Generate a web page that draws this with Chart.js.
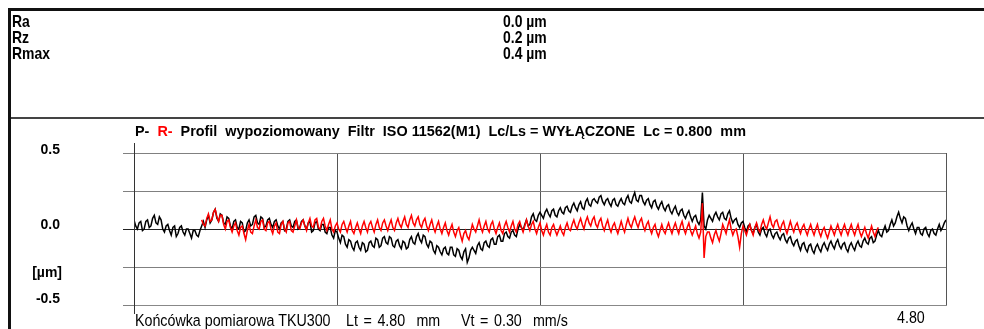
<!DOCTYPE html>
<html>
<head>
<meta charset="utf-8">
<script src="https://cdn.jsdelivr.net/npm/chart.js@4.4.1/dist/chart.umd.min.js"></script>
<style>
html, body { margin: 0; padding: 0; background: #fff; }
#page { position: relative; width: 984px; height: 329px; overflow: hidden; font-family: "Liberation Sans", Arial, sans-serif; color: #000; }
#chart { position: absolute; left: 0; top: 0; }
.t { position: absolute; white-space: pre; line-height: 1; }
.n { transform: scaleX(0.82); transform-origin: 0 50%; }
.b { font-weight: bold; }
.r { text-align: right; }
#frameTop { position: absolute; left: 8px; top: 8px; width: 976px; height: 3px; background: #111; }
#frameLeft { position: absolute; left: 8px; top: 8px; width: 3px; height: 321px; background: #111; }
#divider { position: absolute; left: 11px; top: 117px; width: 973px; height: 2px; background: #444; }
</style>
</head>
<body>
<div id="page">
  <canvas id="chart" width="984" height="329"></canvas>
  <div id="frameTop"></div>
  <div id="frameLeft"></div>
  <div id="divider"></div>

  <div class="t n b" style="left:12px;top:13px;font-size:17px;">Ra</div>
  <div class="t n b" style="left:12px;top:29px;font-size:17px;">Rz</div>
  <div class="t n b" style="left:12px;top:45px;font-size:17px;">Rmax</div>
  <div class="t n b" style="left:503px;top:13px;font-size:17px;">0.0 µm</div>
  <div class="t n b" style="left:503px;top:29px;font-size:17px;">0.2 µm</div>
  <div class="t n b" style="left:503px;top:45px;font-size:17px;">0.4 µm</div>

  <div class="t b" style="left:135px;top:124px;font-size:14.4px;">P-  <span style="color:#ff0000">R-</span>  Profil  wypoziomowany  Filtr  ISO 11562(M1)  Lc/Ls = WYŁĄCZONE  Lc = 0.800  mm</div>

  <div class="t b r" style="right:924px;top:142px;font-size:14px;">0.5</div>
  <div class="t b r" style="right:924px;top:217px;font-size:14px;">0.0</div>
  <div class="t b r" style="right:922px;top:265px;font-size:14px;">[µm]</div>
  <div class="t b r" style="right:924px;top:291px;font-size:14px;">-0.5</div>

  <div class="t n" style="left:135px;top:312px;font-size:17.4px;">Końcówka pomiarowa TKU300</div>
  <div class="t n" style="left:346px;top:312px;font-size:17.4px;word-spacing:2px;">Lt = 4.80  mm</div>
  <div class="t n" style="left:461px;top:312px;font-size:17.4px;word-spacing:2px;">Vt = 0.30  mm/s</div>
  <div class="t n" style="left:897px;top:309px;font-size:17.4px;">4.80</div>
</div>
<script>
// sampling step of the profile along the trace, mm
const step = 0.01;
const traceLength = 4.8;
const filteredStart = 0.4;

// P- primary profile (black), 0.00 .. 4.80 mm, µm
const profileP = [
  0.06, 0.02, 0.00, 0.04, 0.05, -0.01, 0.00, 0.05, 0.06, 0.01, 0.02, 0.07, 0.09, 0.04, 0.03, 0.08, 0.06, 0.00, -0.02, 0.02,
  0.03, -0.01, -0.04, 0.01, 0.02, -0.05, -0.03, 0.01, 0.02, -0.02, -0.04, 0.00, 0.00, -0.03, -0.06, -0.01, -0.01, -0.04, -0.05, -0.01,
  0.02, 0.05, 0.01, 0.06, 0.09, 0.04, 0.06, 0.11, 0.13, 0.07, 0.05, 0.10, 0.09, 0.04, 0.03, 0.08, 0.07, 0.02, 0.00, 0.05,
  0.06, 0.01, 0.00, 0.05, 0.04, -0.02, -0.01, 0.04, 0.06, 0.02, 0.03, 0.08, 0.09, 0.04, 0.03, 0.08, 0.07, 0.01, 0.02, 0.06,
  0.07, 0.03, 0.01, 0.05, 0.06, 0.02, 0.00, 0.04, 0.05, -0.01, 0.00, 0.05, 0.06, 0.02, 0.01, 0.05, 0.06, 0.00, 0.01, 0.05,
  0.06, 0.02, 0.00, 0.04, 0.05, -0.02, -0.01, 0.04, 0.05, 0.00, -0.01, 0.03, 0.03, -0.02, -0.03, 0.01, 0.01, -0.04, -0.06, -0.01,
  -0.02, -0.06, -0.09, -0.04, -0.05, -0.10, -0.12, -0.07, -0.08, -0.12, -0.14, -0.09, -0.08, -0.12, -0.14, -0.09, -0.10, -0.15, -0.14, -0.09,
  -0.08, -0.11, -0.12, -0.06, -0.07, -0.12, -0.11, -0.06, -0.05, -0.09, -0.10, -0.05, -0.06, -0.11, -0.12, -0.08, -0.07, -0.11, -0.13, -0.08,
  -0.09, -0.13, -0.12, -0.07, -0.05, -0.09, -0.10, -0.05, -0.03, -0.07, -0.09, -0.04, -0.05, -0.10, -0.12, -0.08, -0.09, -0.14, -0.16, -0.11,
  -0.12, -0.15, -0.17, -0.13, -0.12, -0.16, -0.17, -0.12, -0.12, -0.17, -0.18, -0.13, -0.14, -0.18, -0.20, -0.15, -0.13, -0.22, -0.19, -0.14,
  -0.12, -0.14, -0.16, -0.11, -0.09, -0.13, -0.14, -0.09, -0.08, -0.11, -0.12, -0.07, -0.06, -0.10, -0.10, -0.05, -0.04, -0.08, -0.08, -0.03,
  -0.02, -0.05, -0.06, -0.02, -0.01, -0.04, -0.05, 0.00, 0.03, 0.01, -0.01, 0.03, 0.06, 0.02, 0.03, 0.08, 0.10, 0.06, 0.05, 0.09,
  0.11, 0.09, 0.07, 0.11, 0.13, 0.10, 0.08, 0.12, 0.13, 0.09, 0.08, 0.12, 0.14, 0.11, 0.10, 0.14, 0.15, 0.12, 0.11, 0.15,
  0.17, 0.14, 0.12, 0.16, 0.18, 0.14, 0.13, 0.18, 0.20, 0.16, 0.15, 0.19, 0.20, 0.18, 0.17, 0.21, 0.22, 0.18, 0.16, 0.19,
  0.20, 0.17, 0.15, 0.19, 0.20, 0.16, 0.15, 0.18, 0.20, 0.17, 0.16, 0.20, 0.22, 0.18, 0.17, 0.21, 0.24, 0.19, 0.18, 0.22,
  0.22, 0.18, 0.16, 0.19, 0.20, 0.16, 0.14, 0.18, 0.19, 0.15, 0.13, 0.16, 0.18, 0.14, 0.12, 0.15, 0.16, 0.12, 0.10, 0.13,
  0.15, 0.11, 0.09, 0.12, 0.13, 0.09, 0.07, 0.10, 0.12, 0.08, 0.05, 0.08, 0.09, 0.05, 0.03, 0.06, 0.24, 0.02, 0.00, 0.06,
  0.09, 0.07, 0.05, 0.09, 0.11, 0.08, 0.06, 0.10, 0.11, 0.07, 0.06, 0.10, 0.12, 0.07, 0.04, 0.06, 0.07, 0.03, 0.01, 0.04,
  0.05, 0.01, -0.02, 0.02, 0.03, -0.01, -0.03, 0.01, 0.03, -0.02, -0.04, 0.00, 0.01, -0.03, -0.05, -0.01, 0.00, -0.04, -0.06, -0.03,
  -0.02, -0.05, -0.07, -0.04, -0.03, -0.07, -0.09, -0.06, -0.05, -0.09, -0.11, -0.08, -0.07, -0.11, -0.14, -0.10, -0.09, -0.13, -0.15, -0.11,
  -0.10, -0.14, -0.16, -0.12, -0.10, -0.13, -0.15, -0.11, -0.09, -0.12, -0.14, -0.10, -0.08, -0.11, -0.13, -0.09, -0.07, -0.11, -0.13, -0.10,
  -0.09, -0.13, -0.15, -0.11, -0.09, -0.12, -0.14, -0.10, -0.08, -0.11, -0.12, -0.08, -0.06, -0.09, -0.10, -0.06, -0.05, -0.09, -0.08, -0.04,
  -0.01, -0.04, -0.05, -0.01, 0.02, -0.02, -0.01, 0.03, 0.06, 0.02, 0.04, 0.08, 0.11, 0.07, 0.04, 0.08, 0.07, 0.02, -0.01, 0.02,
  0.04, 0.00, -0.03, 0.01, 0.01, -0.03, -0.04, 0.00, 0.01, -0.03, -0.05, -0.01, 0.00, -0.03, -0.04, 0.00, 0.03, -0.01, 0.01, 0.04,
  0.06
];

// R- roughness profile (red), 0.40 .. 4.40 mm, µm
const profileR = [
  0.06, 0.03, 0.02, 0.07, 0.10, 0.05, 0.06, 0.11, 0.13, 0.08, 0.05, 0.09, 0.09, 0.03, 0.00, 0.05, 0.06, 0.01, -0.02, 0.02,
  0.04, -0.01, -0.04, 0.01, 0.02, -0.03, -0.07, -0.01, 0.03, -0.02, -0.03, 0.02, 0.06, 0.01, 0.00, 0.05, 0.06, 0.00, -0.01, 0.04,
  0.05, 0.00, -0.03, 0.02, 0.04, -0.02, -0.03, 0.03, 0.05, 0.00, -0.02, 0.04, 0.05, -0.01, -0.02, 0.02, 0.06, 0.01, 0.00, 0.04,
  0.06, 0.02, -0.01, 0.04, 0.07, 0.02, 0.01, 0.06, 0.07, 0.01, 0.00, 0.05, 0.07, 0.02, -0.01, 0.03, 0.06, 0.00, -0.02, 0.02,
  0.04, 0.00, -0.02, 0.03, 0.05, 0.01, -0.02, 0.02, 0.05, -0.01, -0.03, 0.01, 0.04, 0.00, -0.03, 0.02, 0.05, 0.01, -0.02, 0.03,
  0.05, 0.01, -0.02, 0.03, 0.06, 0.01, -0.01, 0.04, 0.06, 0.02, -0.01, 0.03, 0.06, 0.01, -0.01, 0.04, 0.07, 0.03, 0.01, 0.05,
  0.08, 0.03, 0.01, 0.06, 0.09, 0.04, 0.02, 0.06, 0.08, 0.03, 0.01, 0.05, 0.07, 0.02, -0.01, 0.03, 0.06, 0.01, -0.02, 0.02,
  0.05, 0.00, -0.03, 0.01, 0.04, -0.01, -0.04, 0.00, 0.03, -0.02, -0.05, -0.01, 0.01, -0.04, -0.08, -0.03, -0.01, -0.05, -0.07, -0.02,
  0.03, 0.00, -0.02, 0.02, 0.06, 0.01, -0.02, 0.02, 0.05, 0.00, -0.02, 0.03, 0.05, 0.00, -0.03, 0.01, 0.04, -0.01, -0.03, 0.02,
  0.05, 0.01, -0.02, 0.02, 0.05, 0.00, -0.02, 0.03, 0.05, 0.01, -0.02, 0.02, 0.06, 0.02, -0.01, 0.03, 0.05, 0.00, -0.03, 0.01,
  0.04, -0.01, -0.04, 0.00, 0.03, -0.02, -0.04, 0.01, 0.03, -0.01, -0.04, -0.01, 0.02, -0.02, -0.04, 0.01, 0.04, 0.00, -0.01, 0.03,
  0.06, 0.02, 0.00, 0.04, 0.07, 0.03, 0.00, 0.05, 0.08, 0.04, 0.02, 0.06, 0.08, 0.03, 0.01, 0.05, 0.07, 0.02, -0.01, 0.03,
  0.06, 0.01, -0.02, 0.02, 0.04, 0.00, -0.03, 0.01, 0.05, 0.01, -0.02, 0.03, 0.07, 0.03, 0.01, 0.05, 0.08, 0.04, 0.01, 0.05,
  0.07, 0.02, -0.01, 0.03, 0.05, 0.00, -0.03, 0.01, 0.03, -0.02, -0.05, -0.01, 0.03, -0.01, -0.03, 0.01, 0.04, 0.00, -0.03, 0.01,
  0.04, 0.00, -0.03, 0.02, 0.05, 0.00, -0.03, 0.01, 0.04, -0.01, -0.04, -0.01, 0.02, -0.03, -0.06, -0.02, 0.17, -0.19, -0.05, -0.02,
  -0.02, -0.06, -0.09, -0.04, -0.01, -0.05, -0.08, -0.03, 0.03, 0.00, -0.03, 0.02, 0.06, 0.00, -0.04, -0.01, 0.00, -0.05, -0.12, -0.03,
  0.02, -0.01, -0.04, 0.00, 0.03, -0.01, -0.04, 0.01, 0.04, 0.00, -0.02, 0.03, 0.06, 0.02, 0.00, 0.04, 0.08, 0.03, 0.01, 0.05,
  0.06, 0.02, -0.01, 0.03, 0.05, 0.00, -0.03, 0.01, 0.05, 0.01, -0.02, 0.02, 0.04, 0.00, -0.03, 0.01, 0.03, -0.01, -0.04, 0.00,
  0.03, -0.01, -0.04, 0.00, 0.03, -0.02, -0.05, -0.01, 0.01, -0.03, -0.06, -0.02, 0.02, -0.01, -0.04, 0.00, 0.03, -0.01, -0.04, 0.00,
  0.03, -0.01, -0.04, 0.00, 0.03, -0.01, -0.04, 0.00, 0.03, -0.02, -0.05, -0.02, 0.01, -0.03, -0.06, -0.02, 0.02, -0.02, -0.05, -0.01,
  0.01
];

const xTicks = [0, 1.2, 2.4, 3.6, 4.8];
const yTicks = [-0.5, -0.25, 0, 0.25, 0.5];

function toPoints(values, start) {
  return values.map((v, i) => ({ x: +(start + i * step).toFixed(2), y: v }));
}

// vertical axis line overshoots the plot frame at top and bottom
const axisOvershoot = {
  id: 'axisOvershoot',
  afterDraw(chart) {
    const { ctx, chartArea } = chart;
    const x = Math.round(chart.scales.x.getPixelForValue(0)) + 0.5;
    ctx.save();
    ctx.strokeStyle = '#333';
    ctx.lineWidth = 1;
    ctx.beginPath();
    ctx.moveTo(x, chartArea.top - 10);
    ctx.lineTo(x, chartArea.bottom + 9);
    ctx.stroke();
    ctx.restore();
  }
};

new Chart(document.getElementById('chart'), {
  type: 'line',
  data: {
    datasets: [
      {
        label: 'R-',
        data: toPoints(profileR, filteredStart),
        borderColor: '#ff0000',
        borderWidth: 1.5,
        pointRadius: 0,
        tension: 0,
      },
      {
        label: 'P-',
        data: toPoints(profileP, 0),
        borderColor: '#000000',
        borderWidth: 1.5,
        pointRadius: 0,
        tension: 0,
      },
    ],
  },
  options: {
    responsive: false,
    animation: false,
    devicePixelRatio: 1,
    layout: { padding: { left: 123, right: 38, top: 153, bottom: 24 } },
    plugins: { legend: { display: false }, tooltip: { enabled: false } },
    scales: {
      x: {
        type: 'linear',
        min: 0,
        max: traceLength,
        afterBuildTicks(scale) { scale.ticks = xTicks.map(v => ({ value: v })); },
        ticks: { display: false },
        grid: { color: '#555', drawTicks: false },
        border: { color: '#888' },
      },
      y: {
        type: 'linear',
        min: -0.5,
        max: 0.5,
        afterBuildTicks(scale) { scale.ticks = yTicks.map(v => ({ value: v })); },
        ticks: { display: false },
        grid: {
          color: ctx => (ctx.tick && ctx.tick.value === 0 ? '#222' : '#808080'),
          tickLength: 11,
        },
        border: { color: '#333' },
      },
    },
  },
  plugins: [axisOvershoot],
});
</script>
</body>
</html>
